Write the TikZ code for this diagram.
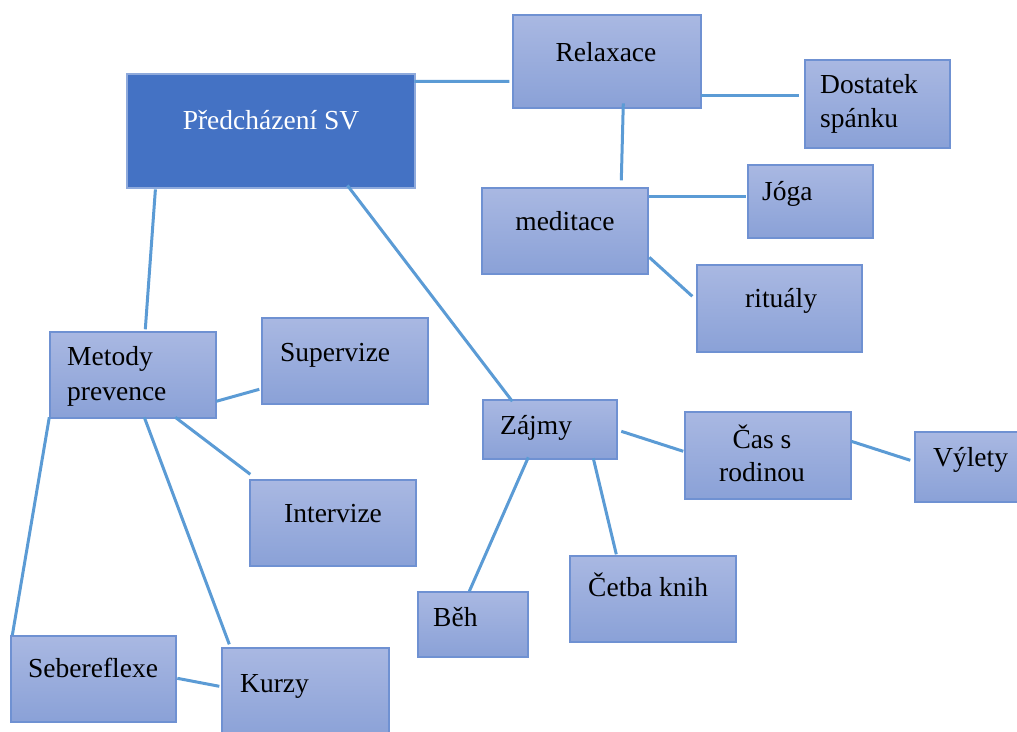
\documentclass[tikz,border=0pt]{standalone}
\usepackage{fontspec}
\setmainfont{Liberation Serif}
\usetikzlibrary{calc}

\definecolor{boxtop}{HTML}{A9B8E2}
\definecolor{boxbot}{HTML}{8AA1D7}
\definecolor{boxline}{HTML}{6F91D2}
\definecolor{mainfill}{HTML}{4472C4}
\definecolor{mainline}{HTML}{8FAADC}
\definecolor{linkcol}{HTML}{5B9BD5}

\begin{document}
\begin{tikzpicture}[
    x=1pt, y=-1pt,
    box/.style={rectangle, draw=boxline, line width=1.4pt, top color=boxtop, bottom color=boxbot, inner sep=0pt},
    mainbox/.style={rectangle, draw=mainline, line width=1.2pt, fill=mainfill, inner sep=0pt},
    txt/.style={inner sep=0pt, font=\fontsize{27.5}{34}\selectfont, text=black},
    link/.style={draw=linkcol, line width=3pt}
]
  \useasboundingbox (0,0) rectangle (1017,731);

  % Boxes
  \node[mainbox, minimum width=288, minimum height=114] (main) at (271,131) {};
  \node[box, minimum width=188, minimum height=93] (relax) at (607,61.5) {};
  \node[box, minimum width=145, minimum height=88] (sleep) at (877.5,104) {};
  \node[box, minimum width=166, minimum height=86] (medit) at (565,231) {};
  \node[box, minimum width=125, minimum height=73] (joga) at (810.5,201.5) {};
  \node[box, minimum width=165, minimum height=87] (ritual) at (779.5,308.5) {};
  \node[box, minimum width=166, minimum height=86] (metody) at (133,375) {};
  \node[box, minimum width=166, minimum height=86] (superv) at (345,361) {};
  \node[box, minimum width=166, minimum height=86] (interv) at (333,523) {};
  \node[box, minimum width=134, minimum height=59] (zajmy) at (550,429.5) {};
  \node[box, minimum width=166, minimum height=87] (cas) at (768,455.5) {};
  \node[box, minimum width=114, minimum height=70] (vylety) at (972,467) {};
  \node[box, minimum width=110, minimum height=65] (beh) at (473,624.5) {};
  \node[box, minimum width=166, minimum height=86] (cetba) at (653,599) {};
  \node[box, minimum width=165, minimum height=86] (sebe) at (93.5,679) {};
  \node[box, minimum width=167, minimum height=92] (kurzy) at (305.5,694) {};

  % Texts
  \node[txt, text=white, anchor=base] (main-t) at (271,129) {Předcházení SV};
  \node[txt, anchor=base] (relax-t) at (606,61) {Relaxace};
  \node[txt, anchor=base west] (sleep-t1) at (820,93) {Dostatek};
  \node[txt, anchor=base west] (sleep-t2) at (820,127) {spánku};
  \node[txt, anchor=base] (medit-t) at (565,230) {meditace};
  \node[txt, anchor=base west] (joga-t) at (762,200) {Jóga};
  \node[txt, anchor=base west] (ritual-t) at (745,307) {rituály};
  \node[txt, anchor=base west] (metody-t1) at (67,365) {Metody};
  \node[txt, anchor=base west] (metody-t2) at (67,400) {prevence};
  \node[txt, anchor=base west] (superv-t) at (280,361) {Supervize};
  \node[txt, anchor=base west] (interv-t) at (284,522) {Intervize};
  \node[txt, anchor=base west] (zajmy-t) at (500,434) {Zájmy};
  \node[txt, anchor=base] (cas-t1) at (762,448) {Čas s};
  \node[txt, anchor=base] (cas-t2) at (762,481) {rodinou};
  \node[txt, anchor=base west] (vylety-t) at (933,466) {Výlety};
  \node[txt, anchor=base west] (beh-t) at (433,626) {Běh};
  \node[txt, anchor=base west] (cetba-t) at (588,596) {Četba knih};
  \node[txt, anchor=base west] (sebe-t) at (28,677) {Sebereflexe};
  \node[txt, anchor=base west] (kurzy-t) at (240,692) {Kurzy};

  % Connectors
  \draw[link] ($(main.north west)+(288,8)$) -- ($(relax.north west)+(-3,67)$);
  \draw[link] ($(relax.north west)+(189,81)$) -- ($(sleep.north west)+(-5,36)$);
  \draw[link] ($(relax.north west)+(111,89)$) -- ($(medit.north west)+(140,-7)$);
  \draw[link] ($(medit.north west)+(168,9)$) -- ($(joga.north west)+(-1,32)$);
  \draw[link] ($(medit.north west)+(168,70)$) -- ($(ritual.north west)+(-4,32)$);
  \draw[link] ($(main.north west)+(29,116)$) -- ($(metody.north west)+(96,-2)$);
  \draw[link] ($(main.north west)+(221,112)$) -- ($(zajmy.north west)+(30,2)$);
  \draw[link] ($(metody.north west)+(167,70)$) -- ($(superv.north west)+(-2,72)$);
  \draw[link] ($(metody.north west)+(126,86)$) -- ($(interv.north west)+(1,-5)$);
  \draw[link] ($(metody.north west)+(95,86)$) -- ($(kurzy.north west)+(8,-3)$);
  \draw[link] ($(metody.north west)+(0,86)$) -- ($(sebe.north west)+(2,0)$);
  \draw[link] ($(sebe.north west)+(167,43)$) -- ($(kurzy.north west)+(-2,39)$);
  \draw[link] ($(zajmy.north west)+(139,32)$) -- ($(cas.north west)+(-1,40)$);
  \draw[link] ($(cas.north west)+(167,30)$) -- ($(vylety.north west)+(-4,29)$);
  \draw[link] ($(zajmy.north west)+(46,58)$) -- ($(beh.north west)+(52,0)$);
  \draw[link] ($(zajmy.north west)+(111,59)$) -- ($(cetba.north west)+(47,-1)$);
\end{tikzpicture}
\end{document}
